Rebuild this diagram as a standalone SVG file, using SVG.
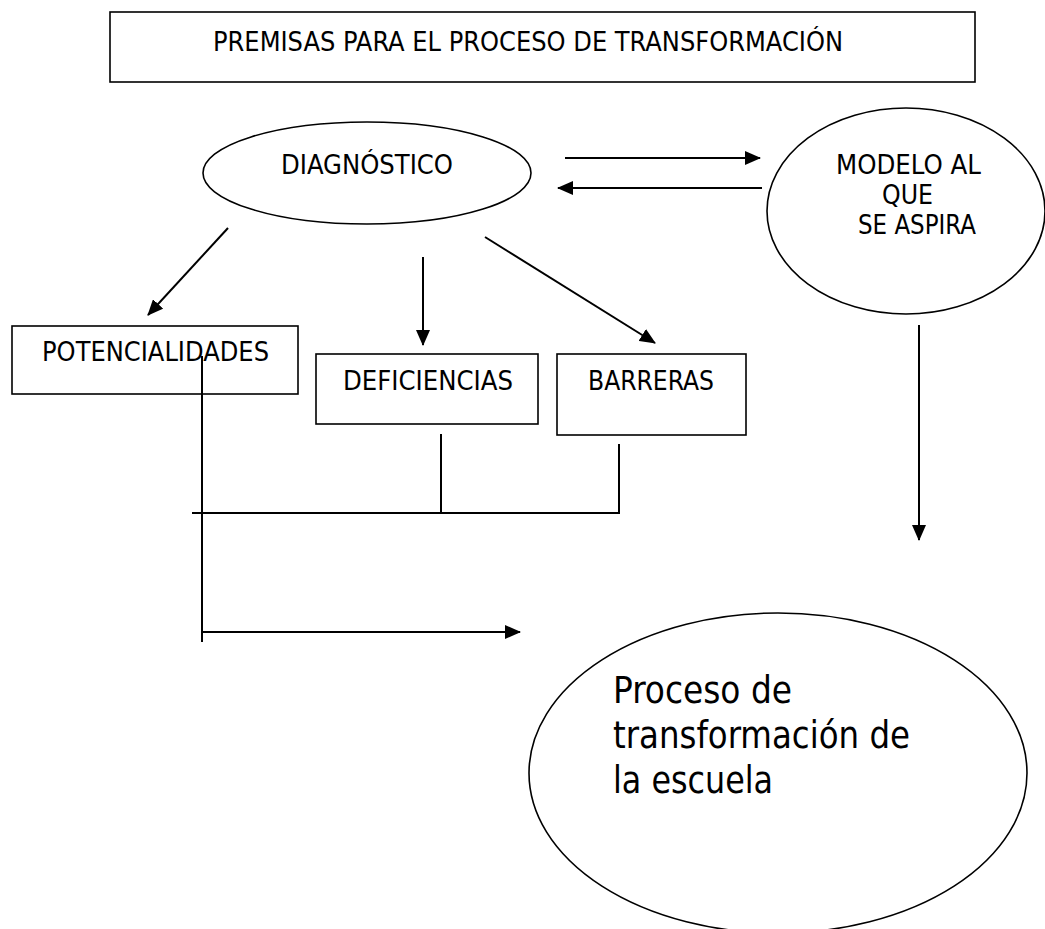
<svg xmlns="http://www.w3.org/2000/svg" width="1045" height="929" viewBox="0 0 1045 929">
<style>
.shape{fill:#fff;stroke:#000;stroke-width:1.6}
.conn{fill:none;stroke:#000;stroke-width:2}
.t{font-family:"DejaVu Sans Condensed","DejaVu Sans",sans-serif;font-size:26.5px;fill:#000}
.big{font-size:37px}
</style>
<defs>
<marker id="ah" viewBox="0 0 16 14" refX="15" refY="7" markerWidth="16" markerHeight="14" markerUnits="userSpaceOnUse" orient="auto">
<path d="M0,0 L16,7 L0,14 z" fill="#000"/>
</marker>
</defs>
<rect width="1045" height="929" fill="#fff"/>
<g id="title">
<rect class="shape" x="110" y="12" width="865" height="70"/>
<text class="t" x="213" y="51" textLength="630" lengthAdjust="spacingAndGlyphs">PREMISAS PARA EL PROCESO DE TRANSFORMACIÓN</text>
</g>
<g id="diagnostico">
<ellipse class="shape" cx="367" cy="173" rx="164" ry="51"/>
<text class="t" x="281" y="174" textLength="172" lengthAdjust="spacingAndGlyphs">DIAGNÓSTICO</text>
</g>
<g id="modelo">
<ellipse class="shape" cx="906" cy="211" rx="139" ry="103"/>
<text class="t" x="836" y="174" textLength="145" lengthAdjust="spacingAndGlyphs">MODELO AL</text>
<text class="t" x="882" y="204" textLength="51" lengthAdjust="spacingAndGlyphs">QUE</text>
<text class="t" x="858" y="234" textLength="118" lengthAdjust="spacingAndGlyphs">SE ASPIRA</text>
</g>
<g id="potencialidades">
<rect class="shape" x="12" y="326" width="286" height="68"/>
<text class="t" x="42" y="361" textLength="227" lengthAdjust="spacingAndGlyphs">POTENCIALIDADES</text>
</g>
<g id="deficiencias">
<rect class="shape" x="316" y="354" width="222" height="70"/>
<text class="t" x="343" y="390" textLength="170" lengthAdjust="spacingAndGlyphs">DEFICIENCIAS</text>
</g>
<g id="barreras">
<rect class="shape" x="557" y="354" width="189" height="81"/>
<text class="t" x="588" y="390" textLength="126" lengthAdjust="spacingAndGlyphs">BARRERAS</text>
</g>
<g id="proceso">
<ellipse class="shape" cx="778" cy="773" rx="249" ry="160"/>
<text class="t big" x="613" y="703" textLength="179" lengthAdjust="spacingAndGlyphs">Proceso de</text>
<text class="t big" x="613" y="748" textLength="297" lengthAdjust="spacingAndGlyphs">transformación de</text>
<text class="t big" x="613" y="793" textLength="160" lengthAdjust="spacingAndGlyphs">la escuela</text>
</g>
<g id="connectors">
<line class="conn" x1="565" y1="158" x2="760" y2="158" marker-end="url(#ah)"/>
<line class="conn" x1="762" y1="188" x2="558" y2="188" marker-end="url(#ah)"/>
<line class="conn" x1="228" y1="228" x2="148" y2="315" marker-end="url(#ah)"/>
<line class="conn" x1="423" y1="257" x2="423" y2="345" marker-end="url(#ah)"/>
<line class="conn" x1="485" y1="237" x2="655" y2="343" marker-end="url(#ah)"/>
<line class="conn" x1="919" y1="325" x2="919" y2="540" marker-end="url(#ah)"/>
<line class="conn" x1="202" y1="356" x2="202" y2="642"/>
<polyline class="conn" points="192,513 619,513 619,444"/>
<line class="conn" x1="441" y1="434" x2="441" y2="513"/>
<line class="conn" x1="202" y1="632" x2="520" y2="632" marker-end="url(#ah)"/>
</g>
</svg>
